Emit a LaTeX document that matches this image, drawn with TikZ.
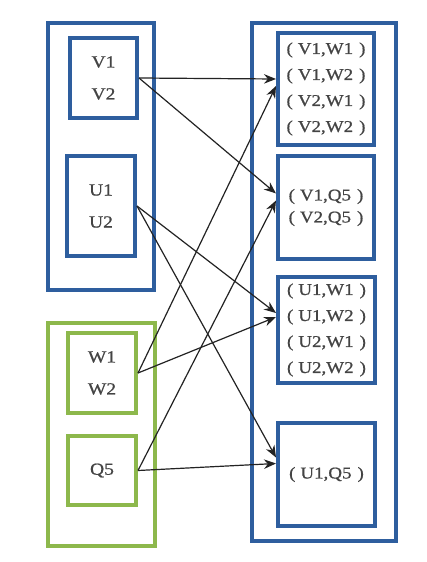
\documentclass[tikz,border=0pt]{standalone}
\usepackage{fontspec}
\setmainfont{Liberation Serif}
\newfontfamily\labelfont{Liberation Serif}[FakeStretch=1.15,FakeBold=0.8]
\usetikzlibrary{arrows.meta}
\definecolor{boxblue}{RGB}{46,94,158}
\definecolor{boxgreen}{RGB}{141,184,76}
\definecolor{labelgray}{RGB}{68,68,68}
\definecolor{wire}{RGB}{35,35,35}
% an ordered pair with the wide bracket spacing used in the product sets
\newcommand{\pairtxt}[2]{(\hspace{5pt}#1,#2\hspace{6pt})}
\tikzset{
  frame/.style={draw, line width=4pt, inner sep=0pt, text=labelgray, align=center},
  bluebox/.style={frame, draw=boxblue},
  greenbox/.style={frame, draw=boxgreen},
  leftlabel/.style={font=\labelfont\fontsize{17}{32}\selectfont},
  pairlabel/.style={font=\labelfont\fontsize{16.5}{26}\selectfont},
  link/.style={draw=wire, line width=1.2pt, -{Stealth[length=12pt,width=9.5pt]}}
}
\begin{document}
\begin{tikzpicture}[x=1pt,y=-1pt]
  \useasboundingbox[fill=white] (0,0) rectangle (426,562);

  % outer groups
  \node[bluebox, minimum width=106, minimum height=267] (leftgrp) at (101,156.5) {};
  \node[greenbox, minimum width=107, minimum height=223] (greengrp) at (101.5,434.5) {};
  \node[bluebox, minimum width=144, minimum height=518] (rightgrp) at (324,282) {};

  % source sets
  \node[bluebox, leftlabel, minimum width=67, minimum height=80] (V) at (103.5,78) {V1\\V2};
  \node[bluebox, leftlabel, minimum width=68, minimum height=100] (U) at (101,206) {U1\\U2};
  \node[greenbox, leftlabel, minimum width=68, minimum height=80] (W) at (102,373) {W1\\W2};
  \node[greenbox, leftlabel, minimum width=68, minimum height=69] (Q) at (102,470.5) {Q5};

  % product sets
  \node[bluebox, pairlabel, minimum width=96, minimum height=112] (VW) at (326,89)
    {\pairtxt{V1}{W1}\\\pairtxt{V1}{W2}\\\pairtxt{V2}{W1}\\\pairtxt{V2}{W2}};
  \node[bluebox, font=\labelfont\fontsize{16.5}{22}\selectfont, minimum width=96, minimum height=103] (VQ) at (326,207.5)
    {\pairtxt{V1}{Q5}\\\pairtxt{V2}{Q5}};
  \node[bluebox, pairlabel, minimum width=97, minimum height=106] (UW) at (326.5,330)
    {\pairtxt{U1}{W1}\\\pairtxt{U1}{W2}\\\pairtxt{U2}{W1}\\\pairtxt{U2}{W2}};
  \node[bluebox, pairlabel, minimum width=97, minimum height=103] (UQ) at (326.5,474.5)
    {\pairtxt{U1}{Q5}};

  % mappings into the product sets
  \draw[link] (V.east) -- ([yshift=10pt]VW.west);
  \draw[link] (V.east) -- ([yshift=14pt]VQ.west);
  \draw[link] (U.east) -- ([yshift=17pt]UW.west);
  \draw[link] (U.east) -- ([yshift=17pt]UQ.west);
  \draw[link] (W.east) -- ([yshift=3pt]VW.west);
  \draw[link] (W.east) -- ([yshift=13pt]UW.west);
  \draw[link] (Q.east) -- ([yshift=7pt]VQ.west);
  \draw[link] (Q.east) -- ([yshift=11pt]UQ.west);
\end{tikzpicture}
\end{document}
